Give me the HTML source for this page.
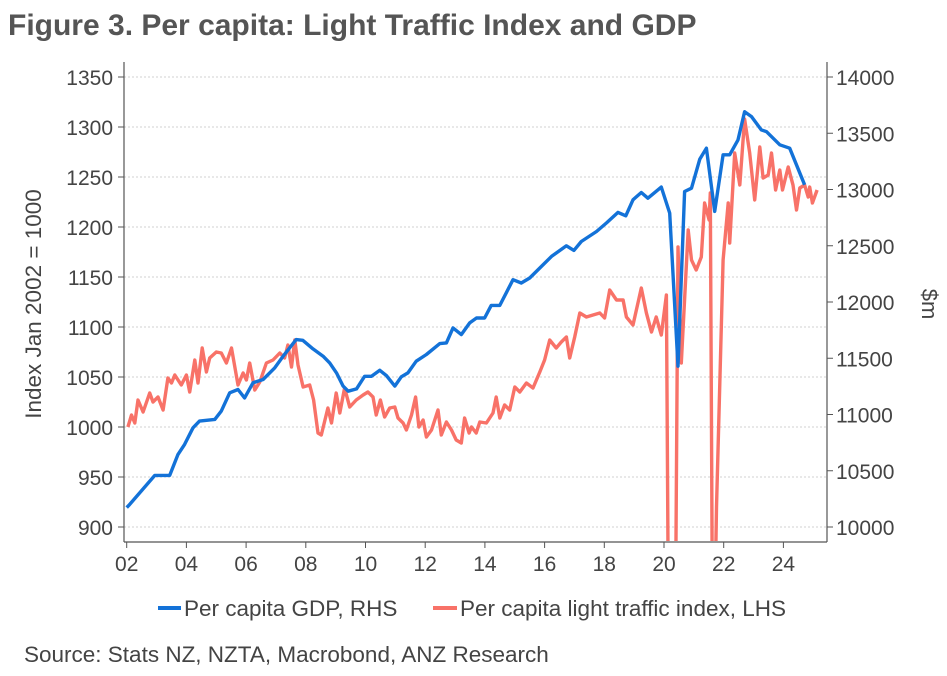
<!DOCTYPE html>
<html><head><meta charset="utf-8"><style>
body{margin:0;background:#fff;width:947px;height:676px;overflow:hidden;font-family:"Liberation Sans",Arial,sans-serif;}
svg{display:block;}
svg text{font-family:"Liberation Sans",Arial,sans-serif;}
</style></head><body>
<svg id="chart" width="947" height="676">
<text x="8" y="35" font-size="30" font-weight="bold" fill="#555">Figure 3. Per capita: Light Traffic Index and GDP</text>
<g id="grid"></g>
<g id="axes"></g>
<defs><clipPath id="clip"><rect x="124" y="60" width="703" height="481"/></clipPath></defs>
<g clip-path="url(#clip)" id="series"></g>
<text transform="translate(41,304) rotate(-90)" text-anchor="middle" font-size="22.5" fill="#444">Index Jan 2002 = 1000</text>
<text transform="translate(922,304) rotate(90)" text-anchor="middle" font-size="22" fill="#444">$m</text>
<g>
<g><line x1="158" y1="608" x2="181" y2="608" stroke="#1372d8" stroke-width="4"/><text x="184" y="616" font-size="22.5" fill="#444">Per capita GDP, RHS</text></g>
<g><line x1="433" y1="608" x2="457" y2="608" stroke="#f87268" stroke-width="4"/><text x="460" y="616" font-size="22.5" fill="#444">Per capita light traffic index, LHS</text></g>
</g>
<text x="24" y="662" font-size="22.5" fill="#444">Source: Stats NZ, NZTA, Macrobond, ANZ Research</text>
</svg>
<script>
const xTicks=[2002,2004,2006,2008,2010,2012,2014,2016,2018,2020,2022,2024];
const leftTicks=[900,950,1000,1050,1100,1150,1200,1250,1300,1350];
const rightTicks=[10000,10500,11000,11500,12000,12500,13000,13500,14000];
const gdpDates=[2002.0,2002.1,2002.94,2003.44,2003.72,2003.94,2004.22,2004.44,2004.95,2005.17,2005.45,2005.73,2005.95,2006.23,2006.57,2006.96,2007.24,2007.68,2007.9,2008.24,2008.58,2008.8,2009.03,2009.25,2009.42,2009.7,2009.97,2010.2,2010.48,2010.7,2010.98,2011.2,2011.42,2011.7,2012.04,2012.49,2012.71,2012.93,2013.21,2013.49,2013.72,2013.99,2014.21,2014.5,2014.94,2015.22,2015.5,2016.23,2016.73,2016.98,2017.23,2017.74,2018.07,2018.46,2018.72,2018.96,2019.24,2019.46,2019.91,2020.19,2020.47,2020.69,2020.92,2021.2,2021.42,2021.7,2021.98,2022.2,2022.48,2022.7,2022.93,2023.26,2023.43,2023.88,2024.21,2024.71];
const gdpValues=[10172,10201,10459,10459,10645,10734,10882,10941,10956,11030,11193,11222,11148,11282,11311,11415,11518,11666,11660,11583,11518,11459,11370,11252,11207,11228,11340,11340,11393,11346,11252,11335,11370,11474,11533,11630,11636,11770,11710,11814,11858,11858,11970,11970,12198,12169,12213,12405,12500,12459,12538,12627,12702,12796,12766,12908,12973,12923,13021,12790,11429,12982,13012,13270,13367,12805,13308,13308,13441,13692,13648,13530,13515,13397,13367,13042];
const trafficDates=[2002.04,2002.16,2002.27,2002.38,2002.55,2002.77,2002.88,2003.05,2003.22,2003.38,2003.5,2003.61,2003.83,2004.0,2004.11,2004.28,2004.39,2004.53,2004.67,2004.78,2005.0,2005.17,2005.34,2005.51,2005.73,2005.9,2006.01,2006.12,2006.29,2006.46,2006.68,2006.9,2007.13,2007.29,2007.4,2007.52,2007.63,2007.74,2007.91,2008.13,2008.26,2008.41,2008.52,2008.74,2008.86,2009.02,2009.14,2009.3,2009.47,2009.69,2009.92,2010.08,2010.25,2010.36,2010.5,2010.64,2010.81,2010.98,2011.09,2011.26,2011.37,2011.54,2011.68,2011.79,2011.93,2012.04,2012.21,2012.43,2012.54,2012.71,2012.88,2013.04,2013.21,2013.32,2013.47,2013.55,2013.71,2013.83,2014.05,2014.27,2014.38,2014.5,2014.66,2014.83,2015.0,2015.17,2015.39,2015.61,2015.84,2016.0,2016.17,2016.39,2016.56,2016.73,2016.84,2017.01,2017.18,2017.4,2017.62,2017.85,2018.01,2018.18,2018.41,2018.63,2018.74,2018.96,2019.24,2019.41,2019.58,2019.74,2019.91,2020.08,2020.17,2020.36,2020.47,2020.58,2020.81,2020.92,2021.08,2021.25,2021.36,2021.51,2021.55,2021.64,2021.76,2021.98,2022.15,2022.2,2022.37,2022.54,2022.7,2022.87,2023.04,2023.21,2023.32,2023.49,2023.6,2023.74,2023.88,2023.97,2024.16,2024.32,2024.44,2024.55,2024.71,2024.83,2024.88,2024.97,2025.13];
const trafficValues=[1000,1012,1004,1027,1015,1034,1025,1030,1017,1049,1044,1052,1042,1052,1035,1067,1044,1079,1055,1069,1075,1074,1064,1079,1042,1054,1047,1064,1037,1045,1064,1067,1074,1069,1082,1060,1087,1062,1040,1042,1027,994,992,1019,1004,1034,1014,1039,1020,1027,1032,1035,1030,1012,1027,1010,1019,1020,1009,1004,997,1012,1030,1000,1007,990,997,1017,992,1005,997,987,984,1009,994,1000,994,1005,1004,1014,1030,1009,1022,1017,1040,1035,1044,1039,1055,1067,1087,1079,1085,1090,1069,1090,1114,1110,1112,1114,1109,1137,1127,1127,1110,1102,1139,1114,1095,1110,1092,1132,700,700,1180,1064,1197,1167,1157,1170,1224,1207,1234,700,920,1167,1224,1184,1274,1242,1308,1274,1227,1280,1249,1252,1274,1237,1257,1237,1260,1242,1217,1239,1242,1230,1240,1224,1237];

const NS='http://www.w3.org/2000/svg';
const X0=126.7,PX=29.85;
function xs(y){return X0+(y-2002)*PX;}
function yl(v){return 77+(1350-v)*450/450;}
function yr(v){return 77+(14000-v)*450/4000;}
function mk(tag,attrs,parent){const e=document.createElementNS(NS,tag);for(const k in attrs)e.setAttribute(k,attrs[k]);parent.appendChild(e);return e;}
const grid=document.getElementById('grid'),axes=document.getElementById('axes'),series=document.getElementById('series');
leftTicks.forEach(t=>{
  const y=yl(t);
  const g=mk('line',{x1:124,x2:827,y1:y,y2:y,stroke:'#d0d0d0','stroke-dasharray':'2,2','stroke-width':1},grid);
  
  
  mk('line',{x1:118,x2:124,y1:y,y2:y,stroke:'#555'},axes);
  const tx=mk('text',{x:113,y:y+8,'text-anchor':'end','font-size':21,fill:'#444'},axes);
  tx.textContent=t;
  
  
});
rightTicks.forEach(t=>{
  const y=yr(t);
  mk('line',{x1:827,x2:833,y1:y,y2:y,stroke:'#555'},axes);
  const tx=mk('text',{x:836,y:y+8,'font-size':21,fill:'#444'},axes);
  tx.textContent=t;
  
  
});
xTicks.forEach(t=>{
  const x=xs(t);
  mk('line',{x1:x,x2:x,y1:542,y2:548,stroke:'#555'},axes);
  const tx=mk('text',{x:x,y:571,'text-anchor':'middle','font-size':21,fill:'#444'},axes);
  tx.textContent=String(t).slice(2);
  
  
});
mk('line',{x1:124,x2:124,y1:62,y2:542,stroke:'#555','stroke-width':1.2},axes);
mk('line',{x1:827,x2:827,y1:62,y2:542,stroke:'#555','stroke-width':1.2},axes);
mk('line',{x1:124,x2:827,y1:542,y2:542,stroke:'#555','stroke-width':1.2},axes);
const tp=mk('polyline',{points:trafficDates.map((d,i)=>xs(d).toFixed(1)+','+yl(trafficValues[i]).toFixed(1)).join(' '),fill:'none',stroke:'#f87268','stroke-width':3.4,'stroke-linejoin':'round'},series);


const gp=mk('polyline',{points:gdpDates.map((d,i)=>xs(d).toFixed(1)+','+yr(gdpValues[i]).toFixed(1)).join(' '),fill:'none',stroke:'#1372d8','stroke-width':3.4,'stroke-linejoin':'round'},series);


</script>
</body></html>
